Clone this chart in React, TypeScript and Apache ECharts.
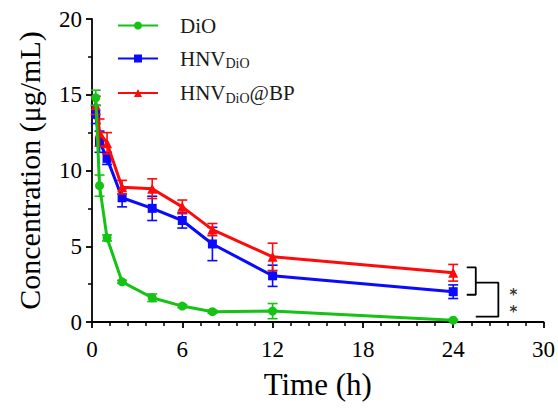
import React, { useEffect, useRef } from "react";
import * as echarts from "echarts";

const times = [0.25, 0.5, 1, 2, 4, 6, 8, 12, 24];
const dioMean = [14.8, 9.0, 5.55, 2.65, 1.6, 1.05, 0.68, 0.72, 0.12];
const dioErr = [0.5, 0.7, 0.2, 0.1, 0.25, 0.1, 0.1, 0.5, 0.05];
const hnvMean = [13.7, 11.9, 10.8, 8.2, 7.5, 6.7, 5.15, 3.05, 2.0];
const hnvErr = [0.6, 0.7, 0.4, 0.6, 0.8, 0.5, 1.1, 0.7, 0.45];
const hnvBpMean = [14.3, 12.5, 11.8, 8.9, 8.8, 7.6, 6.1, 4.3, 3.25];
const hnvBpErr = [0.6, 0.9, 0.7, 0.45, 0.65, 0.45, 0.4, 0.9, 0.55];

const xTicks = [0, 6, 12, 18, 24, 30];
const yTicks = [0, 5, 10, 15, 20];

const bracketInner = [[24.9, 3.6], [25.5, 3.6], [25.5, 1.8], [24.9, 1.8]];
const bracketOuter = [[25.5, 2.6], [27.0, 2.6], [27.0, 0.35], [25.5, 0.35]];
const starPoint = [[28.0, 1.5]];

const GREEN = "#14c314";
const BLUE = "#0a0aff";
const RED = "#ff0a0a";
const FONT = "'Times New Roman', 'Liberation Serif', serif";

function pairs(m: number[]) {
  return times.map((t, i) => [t, m[i]]);
}
function errData(m: number[], e: number[]) {
  return times.map((t, i) => [t, m[i] - e[i], m[i] + e[i]]);
}

function errSeries(name: string, m: number[], e: number[], color: string, z: number) {
  return {
    type: "custom",
    name: name + "_err",
    silent: true,
    z,
    data: errData(m, e),
    encode: { x: 0, y: [1, 2] },
    renderItem: (params: any, api: any) => {
      const x = api.value(0);
      const lo = api.coord([x, api.value(1)]);
      const hi = api.coord([x, api.value(2)]);
      const w = 5;
      const style = { stroke: color, lineWidth: 1.6 };
      return {
        type: "group",
        children: [
          { type: "line", shape: { x1: lo[0], y1: lo[1], x2: hi[0], y2: hi[1] }, style },
          { type: "line", shape: { x1: lo[0] - w, y1: lo[1], x2: lo[0] + w, y2: lo[1] }, style },
          { type: "line", shape: { x1: hi[0] - w, y1: hi[1], x2: hi[0] + w, y2: hi[1] }, style },
        ],
      };
    },
  };
}

export default function App() {
  const ref = useRef<HTMLDivElement>(null);
  useEffect(() => {
    document.body.style.margin = "0";
    const chart = echarts.init(ref.current!, undefined, { renderer: "svg" });
    const axisLine = { show: true, lineStyle: { color: "#000", width: 1.8 } };
    chart.setOption({
      animation: false,
      backgroundColor: "#fff",
      grid: { left: 92, right: 14, top: 19, bottom: 92 },
      legend: {
        orient: "vertical",
        left: 112,
        top: 10,
        itemWidth: 40,
        itemHeight: 10,
        itemGap: 12,
        data: ["DiO", "HNV{sub|DiO}", "HNV{sub|DiO}@BP"],
        textStyle: {
          fontFamily: FONT,
          fontSize: 21,
          color: "#1a1a1a",
          padding: [0, 0, 0, 17],
          rich: {
            sub: { fontFamily: FONT, fontSize: 14, color: "#1a1a1a", padding: [10, 0, 0, 0] },
          },
        },
      },
      xAxis: {
        type: "value",
        min: 0,
        max: 30,
        interval: 6,
        name: "Time (h)",
        nameLocation: "middle",
        nameGap: 47,
        nameTextStyle: { fontFamily: FONT, fontSize: 31, color: "#000" },
        axisLine,
        axisTick: { show: true, length: 6, lineStyle: { width: 1.8, color: "#000" } },
        minorTick: { show: true, splitNumber: 5, length: 4, lineStyle: { width: 1.5, color: "#000" } },
        splitLine: { show: false },
        axisLabel: {
          fontFamily: FONT,
          fontSize: 23,
          color: "#000",
          margin: 16,
          customValues: xTicks,
        },
      },
      yAxis: {
        type: "value",
        min: 0,
        max: 20,
        interval: 5,
        name: "Concentration (μg/mL)",
        nameLocation: "middle",
        nameGap: 48,
        nameTextStyle: { fontFamily: FONT, fontSize: 30, color: "#000" },
        axisLine,
        axisTick: { show: true, length: 6, lineStyle: { width: 1.8, color: "#000" } },
        minorTick: { show: true, splitNumber: 2, length: 4, lineStyle: { width: 1.5, color: "#000" } },
        splitLine: { show: false },
        axisLabel: {
          fontFamily: FONT,
          fontSize: 23,
          color: "#000",
          margin: 10,
          customValues: yTicks,
        },
      },
      series: [
        errSeries("blue", hnvMean, hnvErr, BLUE, 3),
        errSeries("red", hnvBpMean, hnvBpErr, RED, 4),
        errSeries("green", dioMean, dioErr, GREEN, 5),
        {
          type: "line",
          name: "HNV{sub|DiO}",
          data: pairs(hnvMean),
          z: 3,
          color: BLUE,
          lineStyle: { width: 3, color: BLUE },
          symbol: "rect",
          symbolSize: 9,
          itemStyle: { color: BLUE },
        },
        {
          type: "line",
          name: "HNV{sub|DiO}@BP",
          data: pairs(hnvBpMean),
          z: 4,
          color: RED,
          lineStyle: { width: 3, color: RED },
          symbol: "triangle",
          symbolSize: 10,
          itemStyle: { color: RED },
        },
        {
          type: "line",
          name: "DiO",
          data: pairs(dioMean),
          z: 5,
          color: GREEN,
          lineStyle: { width: 3, color: GREEN },
          symbol: "circle",
          symbolSize: 9,
          itemStyle: { color: GREEN },
        },
        {
          type: "line",
          name: "bracket1",
          data: bracketInner,
          silent: true,
          symbol: "none",
          lineStyle: { width: 1.8, color: "#000" },
          z: 2,
        },
        {
          type: "line",
          name: "bracket2",
          data: bracketOuter,
          silent: true,
          symbol: "none",
          lineStyle: { width: 1.8, color: "#000" },
          z: 2,
        },
        {
          type: "scatter",
          name: "stars",
          data: starPoint,
          silent: true,
          symbolSize: 0,
          label: {
            show: true,
            position: "inside",
            formatter: "*\n*",
            fontFamily: "'DejaVu Sans', sans-serif",
            fontSize: 15,
            lineHeight: 17,
            fontWeight: "bold",
            color: "#000",
            offset: [0, 4],
          },
        },
      ],
    });
    return () => chart.dispose();
  }, []);
  return <div ref={ref} style={{ width: 558, height: 414 }} />;
}
